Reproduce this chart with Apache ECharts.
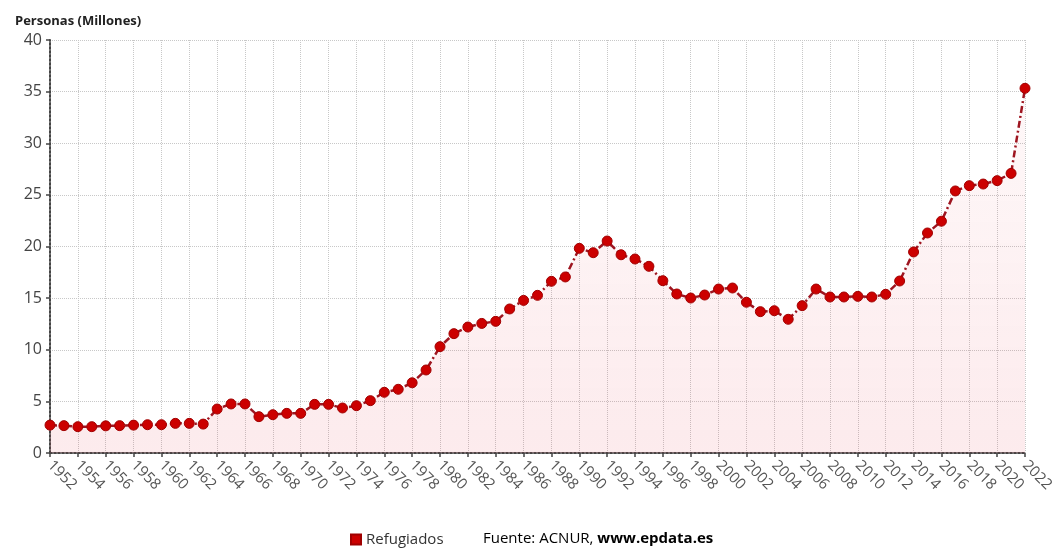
<!DOCTYPE html>
<html>
<head>
<meta charset="utf-8">
<script src="https://cdn.jsdelivr.net/npm/echarts@6/dist/echarts.min.js"></script>
<style>html,body{margin:0;padding:0;background:#fff}#c{width:1061px;height:550px}</style>
</head>
<body>
<div id="c"></div>
<script>
const years = [];
for (let y = 1952; y <= 2022; y++) years.push(String(y));
const refugiados = [
  2.7, 2.65, 2.55, 2.55, 2.63, 2.65, 2.7, 2.74, 2.74, 2.87,
  2.87, 2.8, 4.26, 4.75, 4.75, 3.52, 3.71, 3.84, 3.84, 4.71,
  4.71, 4.36, 4.58, 5.07, 5.88, 6.17, 6.8, 8.04, 10.3, 11.56,
  12.2, 12.55, 12.75, 13.95, 14.78, 15.27, 16.63, 17.05, 19.82, 19.4,
  20.53, 19.2, 18.79, 18.08, 16.69, 15.4, 15.01, 15.3, 15.88, 15.98,
  14.6, 13.69, 13.78, 12.95, 14.27, 15.88, 15.11, 15.11, 15.17, 15.11,
  15.37, 16.66, 19.47, 21.31, 22.45, 25.38, 25.89, 26.05, 26.38, 27.08,
  35.32
];
const yTicks = [0, 5, 10, 15, 20, 25, 30, 35, 40];

const chart = echarts.init(document.getElementById('c'));
const font = '"Open Sans", "Noto Sans", sans-serif';
chart.setOption({
  animation: false,
  textStyle: { fontFamily: font },
  title: {
    text: 'Personas (Millones)',
    left: 10, top: 10,
    textStyle: { fontFamily: font, fontSize: 13, fontWeight: 'bold', color: '#222' }
  },
  legend: {
    data: ['Refugiados'],
    left: 345, top: 527,
    icon: 'rect', itemWidth: 10, itemHeight: 10, itemGap: 6,
    textStyle: { fontFamily: font, fontSize: 15, color: '#333' }
  },
  graphic: [{
    type: 'text', left: 483, top: 531,
    style: {
      text: '{a|Fuente: ACNUR, }{b|www.epdata.es}',
      rich: {
        a: { fontFamily: font, fontSize: 15, color: '#333' },
        b: { fontFamily: font, fontSize: 15, color: '#222', fontWeight: 'bold' }
      }
    }
  }],
  grid: { left: 50, right: 36, top: 40, bottom: 97, containLabel: false },
  xAxis: {
    type: 'category', data: years, boundaryGap: false,
    axisLine: { show: true, lineStyle: { color: '#444', width: 2, type: 'dotted' } },
    axisTick: { show: true, interval: 1, length: 4, lineStyle: { color: '#444', width: 1.5 } },
    axisLabel: { interval: 1, rotate: -45, color: '#555', fontSize: 15, margin: 10, fontFamily: font },
    splitLine: { show: true, interval: 1, lineStyle: { color: '#c8c8c8', type: 'dotted', width: 1 } }
  },
  yAxis: {
    type: 'value', min: yTicks[0], max: yTicks[yTicks.length - 1], interval: 5,
    axisLine: { show: true, lineStyle: { color: '#444', width: 2, type: 'dotted' } },
    axisTick: { show: true, length: 4, lineStyle: { color: '#444', width: 1.5 } },
    axisLabel: { color: '#444', fontSize: 16, margin: 8, fontFamily: font },
    splitLine: { show: true, lineStyle: { color: '#c8c8c8', type: 'dotted', width: 1 } }
  },
  series: [{
    name: 'Refugiados', type: 'line', data: refugiados,
    symbol: 'circle', symbolSize: 10, showAllSymbol: true,
    itemStyle: { color: '#cc0000', borderColor: '#a00000', borderWidth: 1 },
    lineStyle: { color: '#9e1520', width: 2.5, type: [7, 3, 2, 3] },
    areaStyle: {
      color: new echarts.graphic.LinearGradient(0, 0, 0, 1, [
        { offset: 0, color: 'rgba(230,60,80,0.05)' },
        { offset: 1, color: 'rgba(230,60,80,0.15)' }
      ])
    }
  }]
});
</script>
</body>
</html>
